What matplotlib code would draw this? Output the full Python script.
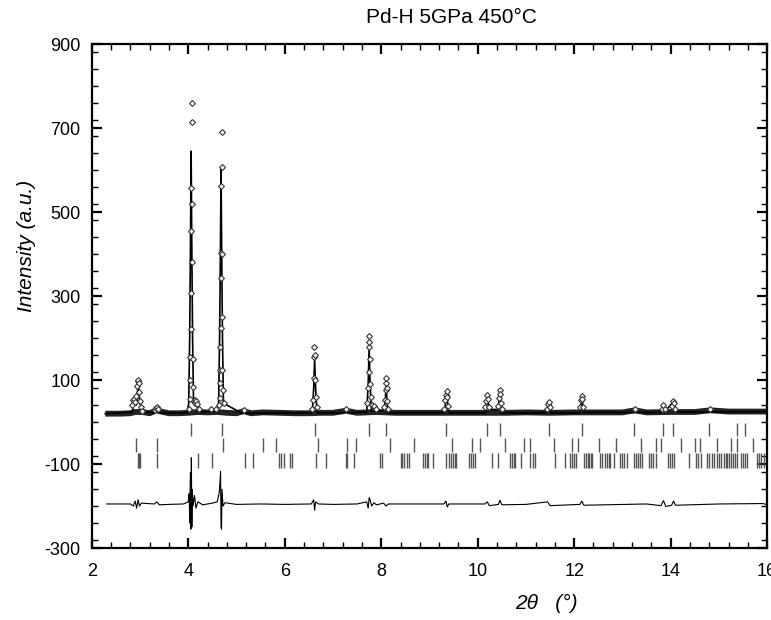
import numpy as np
import matplotlib
matplotlib.use('Agg')
import matplotlib.pyplot as plt
from matplotlib.ticker import MultipleLocator

plt.rcParams['font.family'] = ['Liberation Sans', 'DejaVu Sans']
plt.rcParams['axes.unicode_minus'] = False

# observed background band (2theta, counts)
bg_x = [2.28, 2.6, 2.8, 2.9, 3.05, 3.2, 3.3, 3.35, 3.4, 3.6, 3.8, 4.0, 4.2, 4.4, 4.6,
        4.8, 5.0, 5.15, 5.3, 5.55, 5.9, 6.2, 6.5, 6.75, 7.0, 7.27, 7.5, 7.9, 8.3,
        8.6, 9.0, 9.5, 10.0, 10.6, 11.0, 11.5, 12.0, 12.6, 13.0, 13.26, 13.5,
        14.0, 14.5, 14.82, 15.2, 15.6, 16.0]
bg_y = [20, 20, 21, 24, 24, 21, 26, 33, 26, 21, 21, 22, 24, 23, 24,
        22, 21, 26, 21, 23, 22, 21, 21, 22, 22, 27, 22, 24, 22,
        22, 22, 22, 22, 22, 23, 22, 23, 23, 23, 28, 23,
        24, 24, 28, 25, 25, 25]

# observed points (diamonds) on the peaks
obs_x = [2.84, 2.86, 2.88, 2.90, 2.92, 2.94, 2.955, 2.965, 2.975, 2.985, 3.0, 3.02, 3.04,
         3.31, 3.33, 3.35, 3.37,
         4.01, 4.03, 4.04, 4.045, 4.05, 4.055, 4.06, 4.065, 4.07, 4.075, 4.08, 4.085, 4.09,
         4.10, 4.11, 4.13, 4.15, 4.17, 4.19, 4.22, 4.47, 4.58,
         4.63, 4.65, 4.655, 4.66, 4.665, 4.67, 4.675, 4.68, 4.685, 4.69, 4.695, 4.70,
         4.705, 4.71, 4.72, 4.74, 5.15,
         6.57, 6.59, 6.60, 6.61, 6.615, 6.62, 6.63, 6.64, 6.66, 7.27,
         7.71, 7.73, 7.74, 7.745, 7.75, 7.755, 7.76, 7.77, 7.78, 7.80, 7.85, 7.9,
         8.06, 8.08, 8.09, 8.10, 8.105, 8.11, 8.12, 8.14,
         9.31, 9.33, 9.345, 9.355, 9.365, 9.38,
         10.16, 10.18, 10.195, 10.21, 10.23,
         10.42, 10.44, 10.455, 10.465, 10.48, 10.5,
         11.44, 11.46, 11.475, 11.49,
         12.12, 12.14, 12.155, 12.17, 12.19,
         13.26, 13.82, 13.85, 13.88, 14.02, 14.04, 14.06, 14.08, 14.82]
obs_y = [40, 52, 56, 48, 62, 85, 97, 100, 92, 72, 50, 35, 26,
         28, 34, 35, 30,
         30, 56, 101, 156, 221, 308, 455, 558, 715, 760, 520, 380, 150,
         84, 51, 45, 52, 50, 44, 32, 30, 32,
         40, 57, 92, 124, 179, 225, 343, 402, 563, 690, 608, 400,
         250, 124, 76, 45, 28,
         30, 52, 104, 154, 179, 159, 100, 60, 36, 30,
         45, 80, 120, 179, 205, 191, 150, 90, 60, 40, 38, 30,
         36, 52, 76, 94, 104, 80, 50, 32,
         32, 52, 64, 75, 60, 38,
         35, 50, 64, 55, 35,
         38, 58, 76, 68, 45, 30,
         32, 44, 48, 36,
         35, 52, 62, 55, 36,
         30, 32, 40, 32, 38, 51, 45, 32, 30]

# calculated profile
calc_x = [2.28, 2.84, 2.88, 2.92, 2.94, 2.965, 2.99, 3.03, 3.30, 3.34, 3.38,
          3.98, 4.01, 4.03, 4.048, 4.06, 4.072, 4.09, 4.11, 4.14, 4.17, 4.2, 4.6,
          4.63, 4.65, 4.668, 4.68, 4.692, 4.71, 4.73, 5.11, 5.15, 5.19,
          6.57, 6.60, 6.62, 6.64, 6.67, 7.23, 7.27, 7.31,
          7.70, 7.73, 7.75, 7.77, 7.80, 8.06, 8.09, 8.10, 8.115, 8.14,
          9.31, 9.355, 9.40, 10.16, 10.20, 10.24, 10.42, 10.46, 10.50,
          11.43, 11.475, 11.52, 12.12, 12.16, 12.20, 13.80, 13.85, 13.92,
          14.05, 14.10, 14.78, 14.82, 14.86, 16.0]
calc_y = [20, 24, 52, 40, 60, 95, 55, 24, 22, 32, 22,
          22, 45, 200, 450, 645, 450, 200, 45, 40, 48, 24, 25,
          45, 200, 420, 608, 420, 200, 45, 21, 26, 21,
          22, 80, 152, 80, 22, 22, 26, 22,
          24, 90, 178, 90, 25, 28, 60, 95, 60, 22,
          22, 68, 22, 22, 58, 30, 30, 68, 22,
          22, 45, 22, 22, 58, 23, 23, 38, 30,
          48, 24, 24, 28, 24, 25]

# difference curve (obs - calc, offset)
diff_x = [2.31, 2.8, 2.86, 2.9, 2.93, 2.96, 2.99, 3.03, 3.3, 3.35, 3.4, 3.6, 3.9,
          4.0, 4.02, 4.03, 4.045, 4.055, 4.065, 4.075, 4.085, 4.1, 4.13, 4.16, 4.2,
          4.3, 4.5, 4.6, 4.64, 4.66, 4.67, 4.68, 4.69, 4.70, 4.72, 4.76, 5.0,
          5.5, 6.0, 6.55, 6.6, 6.62, 6.64, 6.7, 7.0, 7.5, 7.7, 7.73, 7.75,
          7.77, 7.8, 7.85, 7.9, 8.05, 8.1, 8.15, 9.3, 9.34, 9.37, 9.4, 10.15,
          10.2, 10.24, 10.43, 10.46, 10.5, 11.0, 11.45, 11.5, 12.12, 12.16,
          12.2, 13.5, 13.8, 13.85, 13.9, 14.02, 14.06, 14.1, 15.0, 15.9, 16.0]
diff_y = [-195, -195, -200, -188, -205, -185, -200, -193, -195, -190, -197, -196, -195,
          -190, -170, -240, -120, -255, -85, -250, -160, -200, -175, -205, -190,
          -197, -193, -190, -170, -140, -118, -250, -255, -160, -200, -192, -196,
          -195, -196, -195, -185, -210, -190, -195, -196, -195, -190, -205, -180,
          -185, -200, -192, -197, -193, -200, -195, -195, -188, -202, -195, -195,
          -190, -199, -196, -186, -197, -196, -190, -199, -196, -188,
          -198, -195, -199, -187, -201, -198, -188, -198, -195, -194, -196]

# reflection markers, three phases
ticks_1 = [4.06, 4.69, 6.62, 7.75, 8.10, 9.35, 10.20, 10.46, 11.47, 12.17, 13.25,
           13.85, 14.05, 14.80, 15.37, 15.54]
ticks_2 = [2.91, 3.35, 4.73, 5.55, 5.81, 6.69, 7.29, 7.48, 8.19, 8.69, 9.47, 9.88,
           10.04, 10.57, 10.95, 11.09, 11.58, 11.96, 12.07, 12.52, 12.86, 13.38,
           13.69, 13.80, 14.21, 14.50, 14.61, 14.97, 15.26, 15.37, 15.71]
ticks_3 = [2.95, 2.98, 3.01, 3.35, 4.21, 4.49, 5.17, 5.34, 5.89, 5.93, 5.98, 6.11,
           6.15, 6.65, 6.85, 7.26, 7.30, 7.44, 7.97, 8.01, 8.40, 8.44, 8.48, 8.53,
           8.57, 8.87, 8.91, 8.95, 8.98, 9.07, 9.34, 9.40, 9.44, 9.48, 9.52, 9.55,
           9.81, 9.86, 9.91, 9.95, 10.30, 10.42, 10.68, 10.71, 10.75, 10.78, 10.89,
           11.09, 11.14, 11.19, 11.60, 11.81, 11.91, 11.95, 12.00, 12.04, 12.20,
           12.24, 12.28, 12.31, 12.35, 12.37, 12.53, 12.58, 12.63, 12.68, 12.72,
           12.75, 12.82, 12.95, 12.99, 13.04, 13.09, 13.24, 13.28, 13.33, 13.37,
           13.41, 13.55, 13.59, 13.64, 13.69, 13.94, 13.98, 14.03, 14.07, 14.38,
           14.52, 14.57, 14.62, 14.76, 14.80, 14.85, 14.90, 14.97, 15.01, 15.05,
           15.10, 15.14, 15.17, 15.21, 15.25, 15.29, 15.33, 15.37, 15.46, 15.50,
           15.55, 15.59, 15.78, 15.83, 15.88, 15.93]

fig = plt.figure(figsize=(7.71, 6.2), dpi=100)
ax = fig.add_axes([0.119, 0.116, 0.876, 0.813])

ax.plot(bg_x, bg_y, color='#222222', lw=4.2, solid_capstyle='butt', zorder=2)
ax.plot(calc_x, calc_y, color='black', lw=1.2, zorder=3)
ax.plot(obs_x, obs_y, ls='none', marker='D', ms=3.0, mfc='white', mec='#333333',
        mew=0.8, zorder=4)
ax.plot(diff_x, diff_y, color='black', lw=0.8, zorder=3)

ax.vlines(ticks_1, -32, -2, color='#555555', lw=1.0)
ax.vlines(ticks_2, -72, -39, color='#555555', lw=1.0)
ax.vlines(ticks_3, -110, -74, color='#555555', lw=1.0)

ax.set_xlim(2, 16)
ax.set_ylim(-300, 900)
ax.set_xticks(np.arange(2, 17, 2))
ax.set_yticks(np.arange(-300, 901, 200))
ax.xaxis.set_minor_locator(MultipleLocator(0.4))
ax.yaxis.set_minor_locator(MultipleLocator(40))
ax.tick_params(which='both', direction='in', top=True, right=True, labelsize=13)
ax.tick_params(which='major', length=7, width=1.6)
ax.tick_params(which='minor', length=4.5, width=1.0)
ax.tick_params(axis='x', pad=11)
ax.tick_params(axis='y', pad=8)
for sp in ax.spines.values():
    sp.set_linewidth(1.6)

fig.text(0.586, 0.971, 'Pd-H 5GPa 450°C', fontsize=15, ha='center', va='center')
fig.text(0.034, 0.603, 'Intensity (a.u.)', fontsize=15, style='italic',
         rotation=90, ha='center', va='center')
fig.text(0.709, 0.027, '2θ   (°)', fontsize=15, style='italic', ha='center', va='center')

fig.savefig('out.png', dpi=100)
